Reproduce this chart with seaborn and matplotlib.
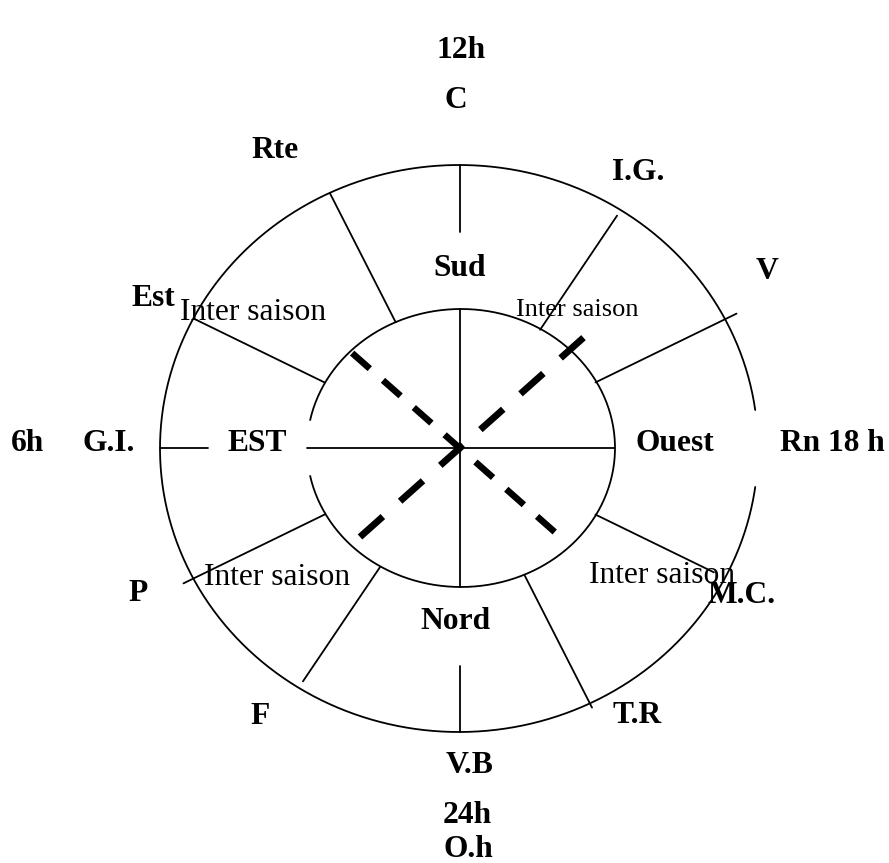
import numpy as np
import pandas as pd
import matplotlib
matplotlib.use("Agg")
import matplotlib.pyplot as plt
import seaborn as sns

# --- diagram content ---
spoke_angles = [154, 117, 56, 26, -26, -63, -124, -154]   # degrees, from the centre
spoke_reach = [1.0, 1.0, 0.975, 1.04, 0.955, 1.015, 0.975, 1.04]  # fraction of outer ring

bold_labels = ["12h", "C", "Rte", "I.G.", "V", "Est", "Sud", "6h", "G.I.", "EST",
               "Ouest", "Rn 18 h", "P", "M.C.", "Nord", "F", "T.R", "V.B", "24h", "O.h"]
season_labels = ["Inter saison", "Inter saison", "Inter saison", "Inter saison"]

# --- layout (pixel coords, y down) ---
bold_pos = [(461, 47), (456, 97), (275, 147), (638, 170), (767, 268), (153, 295),
            (460, 265), (27, 440), (109, 440), (257, 440), (675, 440), (832, 440),
            (138, 590), (742, 592), (455, 618), (260, 713), (637, 712), (470, 762),
            (467, 812), (468, 846)]
season_pos = [(253, 310), (577, 307), (277, 575), (662, 573)]
season_size = [22.7, 19, 22.7, 22.7]

cx, cy = 460, 448.5
outer = dict(x0=459, y0=448.5, a=299, b=283.5)
inner = dict(x0=461, y0=448, a=154, b=139)

sns.set_style("white")
plt.rcParams['font.family'] = ['Liberation Serif', 'DejaVu Serif']

fig = plt.figure(figsize=(8.89, 8.63), dpi=100)
ax = fig.add_axes([0, 0, 1, 1])


def ray_r(e, th):
    return 1.0 / np.sqrt(np.cos(th) ** 2 / e['a'] ** 2 + np.sin(th) ** 2 / e['b'] ** 2)


def arc(e, t0, t1):
    t = np.radians(np.linspace(t0, t1, 400))
    return e['x0'] + e['a'] * np.cos(t), e['y0'] - e['b'] * np.sin(t)


segs = []
# outer ring, open on the right behind "Rn 18 h"
segs.append(arc(outer, 7.8, 352.2))
# inner ring, open on the left behind "EST"
segs.append(arc(inner, -168.4, 168.4))
# cross
segs.append(([cx, cx], [165, 232]))
segs.append(([cx, cx], [309, 587]))
segs.append(([cx, cx], [666, 732]))
segs.append(([160, 208], [448, 448]))
segs.append(([307, 615], [448, 448]))
# spokes
for ang, f in zip(spoke_angles, spoke_reach):
    th = np.radians(ang)
    r0 = ray_r(inner, th)
    r1 = ray_r(outer, th) * f
    segs.append(([cx + r0 * np.cos(th), cx + r1 * np.cos(th)],
                 [cy - r0 * np.sin(th), cy - r1 * np.sin(th)]))

rows = []
for i, (xs, ys) in enumerate(segs):
    for x, y in zip(xs, ys):
        rows.append((i, x, y))
df = pd.DataFrame(rows, columns=["seg", "x", "y"])
sns.lineplot(data=df, x="x", y="y", units="seg", estimator=None, sort=False,
             color="black", lw=1.3, ax=ax, legend=False)

# dashed diagonals
diag = [((138.5, 144), (-41.4, 131), 4.7, (3.6, 2.7)),
        ((-138.5, 133.5), (41.9, 179), 4.9, (4.5, 3.4))]
for (a0, r0), (a1, r1), lw, dash in diag:
    t0, t1 = np.radians(a0), np.radians(a1)
    ax.plot([cx + r0 * np.cos(t0), cx + r1 * np.cos(t1)],
            [cy - r0 * np.sin(t0), cy - r1 * np.sin(t1)],
            color="black", lw=lw, dashes=dash, solid_capstyle="butt",
            dash_capstyle="butt")

# labels (baseline = visual centre + half cap height)
for txt, (x, y) in zip(bold_labels, bold_pos):
    ax.text(x, y + 10.5, txt, ha="center", va="baseline", fontsize=22.7,
            fontweight="bold", color="black")
for txt, (x, y), fs in zip(season_labels, season_pos, season_size):
    ax.text(x, y + fs * 0.46, txt, ha="center", va="baseline", fontsize=fs,
            color="black")

ax.set_xlim(0, 889)
ax.set_ylim(863, 0)
ax.axis("off")
fig.savefig("out.png", dpi=100, facecolor="white")
